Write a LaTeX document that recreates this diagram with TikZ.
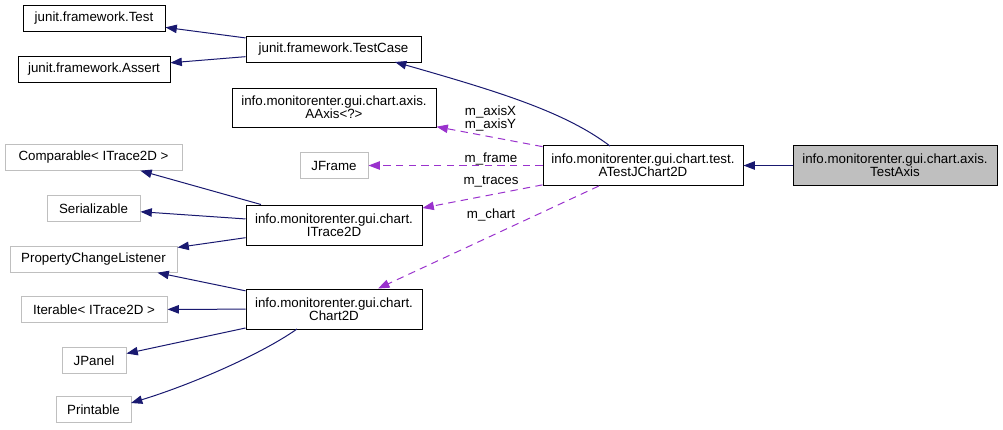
\documentclass[tikz,border=0pt]{standalone}
\usepackage{fontspec}
\setmainfont{Liberation Sans}
\usetikzlibrary{arrows.meta}
\definecolor{navyedge}{HTML}{191970}
\definecolor{purpedge}{HTML}{9A32CD}
\definecolor{grayline}{HTML}{BFBFBF}
\definecolor{grayfill}{HTML}{BFBFBF}
\begin{document}
\begin{tikzpicture}[x=0.75pt,y=-0.75pt,
  every node/.style={font=\fontsize{10}{9.75}\selectfont, align=center, inner sep=0pt},
  cls/.style={draw=black, line width=0.75pt, rectangle},
  ext/.style={draw=grayline, line width=0.75pt, rectangle},
  inh/.style={draw=navyedge, line width=0.75pt, -{Triangle[length=8.5pt,width=6.3pt]}, fill=none},
  use/.style={draw=purpedge, line width=0.75pt, dash pattern=on 5.5pt off 4pt, -{Triangle[length=8.5pt,width=6.3pt]}},
  lbl/.style={font=\fontsize{10}{9.75}\selectfont}
]
\useasboundingbox (0,0) rectangle (1003,429);
% nodes
\node[cls, minimum width=106.5pt, minimum height=19.5pt] (test) at (94,18) {junit.framework.Test};
\node[cls, minimum width=114pt, minimum height=19.5pt] (assert) at (94,69) {junit.framework.Assert};
\node[cls, minimum width=131.25pt, minimum height=19pt] (testcase) at (333.5,49.5) {junit.framework.TestCase};
\node[cls, minimum width=153pt, minimum height=29.25pt] (aaxis) at (334,107.5) {info.monitorenter.gui.chart.axis.\\AAxis<?>};
\node[ext, minimum width=132.75pt, minimum height=19pt] (comparable) at (93.5,157.5) {Comparable< ITrace2D >};
\node[ext, minimum width=51pt, minimum height=19pt] (jframe) at (334,165.5) {JFrame};
\node[ext, minimum width=69.75pt, minimum height=19pt] (serial) at (93.5,208.5) {Serializable};
\node[cls, minimum width=132pt, minimum height=30pt] (itrace) at (334,225) {info.monitorenter.gui.chart.\\ITrace2D};
\node[ext, minimum width=125.25pt, minimum height=19pt] (pcl) at (93.5,259.5) {PropertyChangeListener};
\node[ext, minimum width=109.5pt, minimum height=19pt] (iterable) at (94,309.5) {Iterable< ITrace2D >};
\node[cls, minimum width=132pt, minimum height=30pt] (chart) at (334,309) {info.monitorenter.gui.chart.\\Chart2D};
\node[ext, minimum width=48pt, minimum height=19pt] (jpanel) at (94,360.5) {JPanel};
\node[ext, minimum width=56.25pt, minimum height=19pt] (printable) at (93.5,409.5) {Printable};
\node[cls, minimum width=150pt, minimum height=30pt] (atest) at (643,165.5) {info.monitorenter.gui.chart.test.\\ATestJChart2D};
\node[cls, fill=grayfill, minimum width=153pt, minimum height=30pt] (testaxis) at (895,165.5) {info.monitorenter.gui.chart.axis.\\TestAxis};
% coordinates for curved edges
\coordinate (tcstart) at (610,146);
\coordinate (tcend) at (395,62);
\coordinate (prstart) at (297,329);
\coordinate (prend) at (131,403);
% inheritance edges
\draw[inh] (testcase) -- (test);
\draw[inh] (testcase) -- (assert);
\draw[inh] (tcstart) .. controls (565,112) and (500,92) .. (tcend);
\draw[inh] (testaxis) -- (atest);
\draw[inh] (itrace) -- (comparable);
\draw[inh] (itrace) -- (serial);
\draw[inh] (itrace) -- (pcl);
\draw[inh] (chart) -- (pcl);
\draw[inh] (chart) -- (iterable);
\draw[inh] (chart) -- (jpanel);
\draw[inh] (prstart) .. controls (260,355) and (190,385) .. (prend);
% usage edges
\draw[use] (atest) -- (aaxis);
\draw[use] (atest) -- (jframe);
\draw[use] (atest) -- (itrace);
\draw[use] (atest) -- (chart);
% labels
\node[lbl] (laxis) at (490.5,118) {m\_axisX\\m\_axisY};
\node[lbl] (lframe) at (491,158.5) {m\_frame};
\node[lbl] (ltraces) at (491,182) {m\_traces};
\node[lbl] (lchart) at (491,214.5) {m\_chart};
\end{tikzpicture}
\end{document}
